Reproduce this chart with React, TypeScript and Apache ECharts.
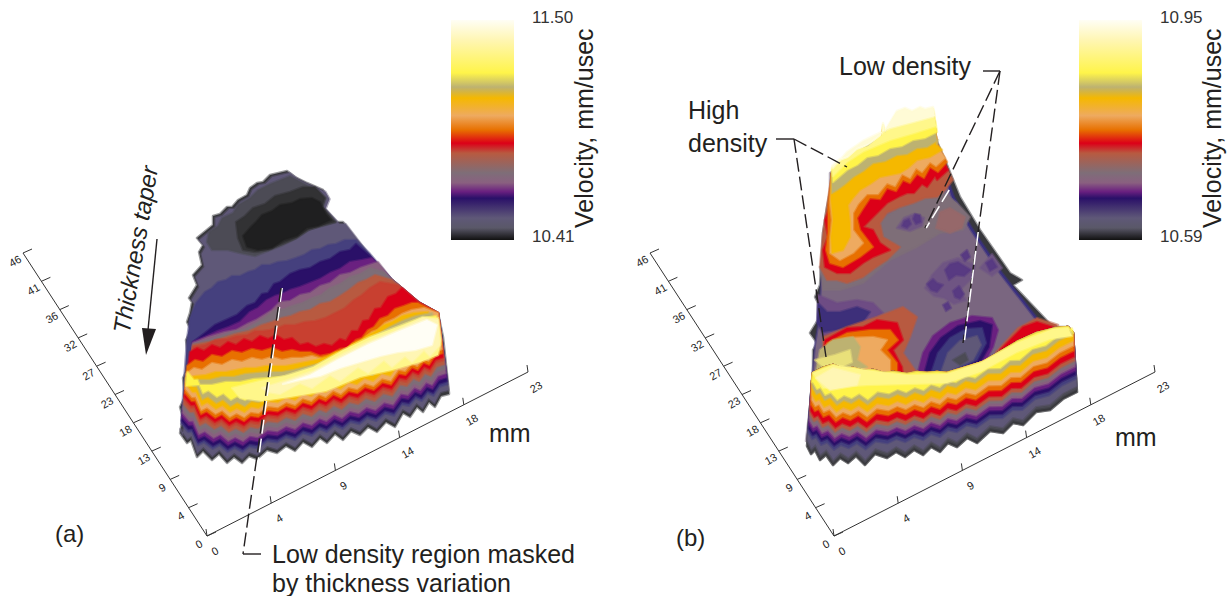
import React, { useEffect, useRef } from "react";
import * as echarts from "echarts";

type P = number[];
const FONT = '"Liberation Sans", Arial, sans-serif';
const INK = "#231f20";

// colour scale (fraction from top of bar, colour)
const scaleFractions = [0, 0.09, 0.24, 0.305, 0.355, 0.435, 0.5, 0.56, 0.605, 0.695, 0.74, 0.78, 0.81, 0.90, 0.945, 1];
const scaleColors = ["#fffef5", "#fff6b4", "#fff44a", "#bdb271", "#f5b800", "#eeaa60", "#e87000", "#dc0018", "#b85a40", "#7e6e78", "#8a6080", "#6a2080", "#2a1068", "#5f5878", "#5a5868", "#111111"];
const C = {
  white: "#fffef5", cream: "#fff6b4", lemon: "#fff78a", yellow: "#fff44a", olive: "#bdb271", gold: "#f5b800", peach: "#eeaa60",
  orange: "#e87000", red: "#dc0018", redbrown: "#c84030", brown: "#b85a40", gray: "#7e6e78", mauve: "#8a6080",
  purple: "#6a2080", indigo: "#2a1068", blue: "#45407e", slate: "#5f5878", dark: "#38383c", black: "#1f1f20", char: "#323234", ash: "#4c4b55",
};

// ---------- panel (a) outlines, in image units
const aEdge: P[] = [[180,433],[183,418],[180,407],[185,397],[183,378],[187,370],[188,357],[186,340],[191,330],[187,322],[190,313],[192,302],[189,298],[197,285],[193,275],[202,265],[199,252],[203,245],[197,238],[213,225],[213,216],[220,214],[227,207],[232,207],[238,200],[247,195],[250,188],[257,183],[263,182],[270,175],[287,171],[295,177],[307,183],[323,190],[327,197],[323,207],[337,222],[343,222],[370,257],[392,280],[418,302],[438,313],[443,337],[449,393]];
const aFront: P[] = [[180,433],[187,443],[191,440],[197,457],[203,451],[212,460],[219,454],[227,463],[234,457],[242,463],[249,456],[257,459],[267,450],[277,453],[286,446],[295,451],[303,442],[312,447],[320,438],[327,443],[335,434],[343,440],[351,431],[360,435],[368,427],[377,432],[386,422],[395,427],[403,413],[410,417],[417,407],[423,412],[429,402],[435,407],[441,396],[449,394]];
const aCorner: P[] = [[370,257],[392,280],[418,302],[438,313]];
const aAsh: P[] = [[209,232],[218,226],[222,218],[233,213],[238,205],[250,198],[258,190],[270,184],[280,180],[290,176],[303,183],[318,191],[326,198],[323,207],[336,222],[322,226],[310,229],[297,238],[283,245],[270,250],[255,256],[240,253],[228,250],[212,250],[207,242]];
const aChar: P[] = [[236,222],[245,216],[253,208],[265,204],[275,196],[290,192],[303,187],[315,187],[325,198],[322,207],[335,222],[320,226],[308,230],[296,238],[282,244],[268,250],[255,252],[243,250],[238,238]];
const aBlack: P[] = [[243,236],[250,228],[256,222],[262,215],[272,211],[280,205],[292,203],[300,199],[312,198],[320,202],[326,214],[331,220],[318,226],[307,228],[297,236],[284,240],[272,248],[258,250],[247,247]];
const aBlue: P[] = [[187,340],[190,318],[196,303],[205,292],[212,288],[218,282],[226,280],[232,276],[240,276],[248,272],[255,270],[262,265],[270,265],[278,262],[287,261],[296,258],[304,255],[312,250],[320,249],[328,245],[336,244],[345,240],[356,240],[370,254]];
const aIndigo: P[] = [[193,342],[205,333],[215,325],[226,320],[237,315],[247,306],[255,303],[262,294],[268,293],[274,284],[280,282],[290,274],[300,270],[310,268],[320,262],[330,259],[340,252],[350,250],[356,244],[370,256]];
const aPurple: P[] = [[193,342],[205,337],[218,331],[229,327],[240,322],[250,312],[258,308],[267,300],[275,296],[282,294],[290,290],[300,287],[310,283],[320,279],[330,273],[340,269],[350,262],[362,260],[372,258]];
const aMauve: P[] = [[193,343],[208,337],[225,332],[236,330],[247,324],[256,320],[264,315],[272,310],[280,302],[290,301],[300,295],[310,293],[320,286],[330,283],[340,275],[350,273],[360,268],[378,262]];
const aGray: P[] = [[193,344],[212,339],[232,332],[245,329],[258,322],[267,316],[275,310],[284,309],[292,306],[302,303],[312,298],[321,295],[330,288],[340,284],[350,277],[360,274],[370,268],[384,272]];
const aBrown: P[] = [[193,345],[214,341],[235,334],[249,331],[262,325],[272,322],[282,318],[291,316],[300,312],[310,310],[320,304],[330,302],[340,296],[349,290],[358,283],[366,280],[375,275],[392,280]];
const aRedbrown: P[] = [[193,347],[205,345],[215,340],[227,339],[237,336],[247,335],[255,331],[263,331],[270,330],[278,328],[285,325],[295,325],[305,322],[315,321],[325,318],[335,313],[345,308],[354,300],[362,295],[370,288],[380,282],[398,285]];
const aRed: P[] = [[190,352],[197,348],[204,351],[212,345],[220,348],[228,342],[236,345],[244,339],[252,342],[260,336],[268,339],[276,335],[284,340],[292,338],[300,345],[308,343],[316,347],[324,344],[332,346],[340,339],[346,341],[352,331],[358,331],[363,321],[369,320],[375,309],[381,308],[388,297],[396,294],[402,288]];
const aOrange: P[] = [[187,366],[195,360],[203,362],[212,355],[222,357],[232,351],[242,353],[252,349],[262,351],[272,348],[282,352],[292,350],[300,352],[310,352],[320,356],[330,354],[340,349],[348,348],[356,340],[362,338],[368,330],[374,327],[380,319],[388,316],[395,309],[404,306],[412,303],[418,303]];
const aPeach: P[] = [[186,374],[194,368],[202,370],[212,363],[222,365],[232,360],[242,362],[252,358],[262,360],[272,357],[282,360],[292,358],[302,358],[312,356],[322,359],[332,357],[342,351],[350,349],[358,342],[364,339],[372,332],[378,330],[385,323],[394,319],[402,314],[412,310],[424,308]];
const aGold: P[] = [[186,378],[196,376],[206,375],[216,372],[226,372],[236,370],[246,368],[256,368],[266,366],[276,366],[286,366],[296,364],[306,362],[316,360],[326,357],[336,352],[344,351],[352,344],[360,341],[368,335],[376,331],[384,325],[392,322],[402,316],[414,313],[428,312]];
const aOlive: P[] = [[186,382],[198,380],[210,380],[222,377],[234,377],[246,374],[258,373],[270,372],[282,372],[294,370],[306,367],[318,364],[330,358],[342,354],[354,347],[366,340],[378,334],[390,327],[402,321],[416,316],[432,313]];
const aYellow: P[] = [[186,386],[198,385],[212,385],[226,382],[240,382],[254,379],[268,378],[282,377],[296,375],[310,371],[322,368],[334,362],[346,357],[358,350],[370,344],[382,337],[394,331],[406,325],[420,319],[436,316]];
const aLemon: P[] = [[232,388],[260,381],[285,376],[313,367],[343,350],[370,337],[397,327],[423,317],[438,318],[441,340],[438,355],[420,362],[392,370],[360,377],[326,391],[290,397],[262,401],[240,398]];
const aCream: P[] = [[262,388],[285,381],[313,371],[343,354],[370,341],[397,330],[423,318],[438,320],[440,345],[430,356],[424,350],[412,362],[405,356],[392,367],[384,360],[368,373],[358,367],[340,381],[330,375],[312,388],[300,383],[280,394],[268,392]];
const aWhite: P[] = [[283,384],[310,375],[337,360],[367,345],[397,332],[427,320],[437,325],[432,345],[415,350],[398,352],[380,356],[360,362],[340,368],[320,376],[300,380]];
const aLevels: [P[], string, number][] = [
  [aBlue, C.blue, 10], [aIndigo, C.indigo, 13], [aPurple, C.purple, 17], [aMauve, C.mauve, 21], [aGray, C.gray, 25],
  [aBrown, C.brown, 30], [aRedbrown, C.redbrown, 34], [aRed, C.red, 37], [aOrange, C.orange, 41], [aPeach, C.peach, 45],
  [aGold, C.gold, 50], [aOlive, C.olive, 56], [aYellow, C.yellow, 62],
];

// ---------- panel (b) outlines
const bEdge: P[] = [[807,446],[813,380],[813,350],[817,343],[810,333],[818,320],[818,303],[815,297],[820,285],[823,233],[827,207],[834,172],[857,153],[882,138],[897,118],[915,112],[931,112],[935,137],[945,160],[960,197],[980,230],[1010,273],[1022,280],[1013,285],[1053,327],[1068,327],[1073,333],[1077,392]];
const bBody: P[] = [[813,380],[816,345],[820,320],[822,285],[827,233],[830,207],[834,172],[931,114],[933,137],[942,160],[955,197],[974,230],[1003,273],[1045,327],[1070,333],[1074,392],[900,440],[810,440]];
const bFront: P[] = [[807,446],[811,454],[815,450],[820,460],[826,455],[833,465],[840,458],[848,463],[856,456],[865,465],[875,454],[887,458],[896,452],[905,457],[914,450],[923,455],[931,447],[940,452],[948,443],[957,447],[967,438],[977,443],[990,431],[1003,433],[1013,423],[1023,425],[1036,412],[1050,410],[1063,399],[1077,392]];
const bRidge: P[] = [[812,382],[813,373],[823,368],[833,365],[843,369],[853,368],[863,371],[873,370],[883,373],[893,372],[907,374],[917,372],[927,373],[937,372],[947,373],[957,370],[967,367],[983,362],[1000,352],[1017,342],[1037,333],[1057,328],[1068,327],[1073,333]];
const bTop: P[] = [[832,165],[840,158],[848,155],[857,147],[868,143],[882,132],[883,122],[885,130],[897,110],[905,107],[912,110],[920,106],[925,108],[933,106],[937,137],[947,160]];
const bBrown: P[] = [[953,180],[945,190],[937,197],[925,198],[913,203],[900,207],[887,213],[880,223],[883,237],[900,247],[887,260],[875,268],[863,277],[847,283],[837,280],[827,280],[820,267],[823,233],[827,207]];
const bRed: P[] = [[948,170],[937,180],[935,176],[927,187],[922,184],[914,193],[907,193],[900,196],[887,203],[878,212],[870,220],[863,227],[873,230],[880,243],[890,250],[873,257],[863,263],[850,273],[837,273],[825,267],[823,250],[828,237],[825,220],[830,207]];
const bOrange: P[] = [[947,162],[938,172],[930,167],[924,178],[917,174],[910,183],[903,180],[896,191],[887,188],[880,199],[870,198],[862,210],[857,218],[860,230],[873,247],[860,257],[843,267],[830,263],[826,250],[828,233],[828,210],[829,197]];
const bPeach: P[] = [[945,158],[936,166],[930,162],[922,172],[916,168],[910,178],[902,174],[895,186],[887,183],[878,194],[867,194],[858,204],[853,213],[853,230],[863,243],[853,253],[840,260],[830,253],[830,240],[832,220],[830,203]];
const bGold: P[] = [[942,150],[930,157],[917,160],[908,168],[900,173],[890,175],[880,177],[870,184],[860,190],[853,198],[848,205],[850,223],[850,237],[843,250],[832,253],[831,237],[833,220],[831,200]];
const bOlive: P[] = [[938,140],[927,147],[917,148],[907,154],[897,155],[885,161],[873,163],[863,171],[853,177],[845,184],[837,190],[832,193]];
const bYellow: P[] = [[937,132],[925,138],[913,140],[902,146],[890,148],[878,155],[867,157],[857,165],[847,170],[833,182]];
const bLemon: P[] = [[936,126],[914,133],[890,140],[864,151],[847,162],[833,176]];
const bCream: P[] = [[935,116],[913,122],[890,128],[863,141],[847,152],[833,168]];
const bGrayZone: P[] = [[880,220],[907,203],[940,190],[957,203],[970,217],[963,230],[940,233],[917,247],[890,260],[863,283],[840,290],[823,290],[820,267]];
const bTan: P[] = [[940,212],[950,208],[965,217],[962,228],[950,233],[936,228]];
const bHaze: P[] = [[818,295],[837,303],[857,300],[873,303],[883,313],[860,327],[823,337],[818,320]];
const bBand: P[] = [[818,303],[827,312],[840,312],[857,307],[870,312],[862,323],[847,328],[823,332],[817,323]];
const bHalos: P[][] = [
  [[897,228],[904,218],[914,214],[924,218],[922,226],[910,231]],
  [[925,288],[932,275],[943,263],[958,258],[975,265],[972,278],[960,290],[966,300],[954,304],[944,298],[934,296]],
  [[980,268],[992,254],[1002,268],[992,276]],
];
const bBlots: P[][] = [
  [[902,226],[904,221],[909,219],[911,224],[907,228]], [[913,219],[915,214],[920,215],[921,222],[916,224]],
  [[945,270],[950,264],[958,262],[966,267],[971,270],[964,276],[956,275],[949,280]], [[927,284],[933,279],[937,283],[943,285],[937,292],[931,290]],
  [[953,291],[959,286],[964,294],[960,299],[955,297]], [[943,305],[948,302],[951,308],[946,311]], [[986,263],[992,259],[997,267],[990,271]],
  [[961,255],[967,250],[970,257],[965,261]],
];
const bPatches: [P[], string][] = [
  [[[823,337],[847,327],[877,317],[903,307],[917,317],[910,337],[903,353],[917,373],[873,377],[823,377]], C.brown],
  [[[825,340],[847,328],[863,327],[877,320],[897,323],[903,340],[893,350],[902,367],[903,377],[873,377],[823,377]], C.red],
  [[[827,343],[847,333],[870,330],[890,330],[898,340],[887,350],[897,363],[897,377],[823,377]], C.orange],
  [[[830,343],[847,338],[873,337],[887,340],[880,350],[890,360],[890,377],[823,377]], C.peach],
  [[[820,350],[833,340],[853,337],[860,347],[857,360],[867,367],[830,377],[815,377]], C.olive],
  [[[815,360],[835,355],[850,350],[852,362],[830,372]], "#e9e07a"],
  [[[918,372],[923,353],[933,336],[950,323],[972,316],[992,318],[998,330],[993,347],[985,362],[947,379]], C.purple],
  [[[925,371],[930,353],[941,338],[958,326],[980,321],[992,325],[989,347],[981,361],[947,376]], C.indigo],
  [[[932,371],[938,353],[950,338],[966,329],[982,328],[986,343],[977,360],[947,375]], "#3e3a7c"],
  [[[942,370],[948,353],[960,341],[977,336],[981,345],[973,360],[947,372]], C.slate],
  [[[953,360],[965,353],[968,360],[960,365]], C.ash],
  [[[996,352],[1018,328],[1037,318],[1058,325],[1025,345]], C.brown],
  [[[1000,350],[1023,327],[1037,322],[1053,327],[1023,342]], C.red],
];
const bWallLevels: [string, number][] = [
  [C.dark, 0], [C.ash, 3], [C.slate, 6], [C.blue, 14], [C.indigo, 18], [C.purple, 22], [C.mauve, 26], [C.gray, 29],
  [C.brown, 32], [C.red, 36], [C.orange, 42], [C.peach, 47], [C.gold, 52], [C.olive, 59], [C.yellow, 64],
];
const bWallLemon: P[] = [[813,373],[833,365],[873,371],[907,375],[947,374],[980,363],[1017,343],[1053,329],[1068,328],[1072,336],[1050,339],[1017,352],[980,372],[947,383],[907,384],[867,385],[823,388]];
const bWallWhite: P[] = [[816,378],[833,368],[860,375],[857,385],[830,390]];

// ---------- axes, scale bars and labels
const xTicks = ["0", "4", "9", "14", "18", "23"];
const yTicks = ["0", "4", "9", "13", "18", "23", "27", "32", "36", "41", "46"];
const panelShift = [0, 627];
const barShift = [0, 628];
const scaleA = ["11.50", "10.41"];
const scaleB = ["10.95", "10.59"];

const rev = (a: P[]) => [...a].reverse();
// wall contours follow the front edge with its saw-teeth softened once they leave the bottom edge
const wall = (front: P[], d: number, l0: number, l1: number) =>
  front.map((p, i) => {
    const t = i / (front.length - 1);
    const prev = front[Math.max(i - 1, 0)][1];
    const next = front[Math.min(i + 1, front.length - 1)][1];
    const y = d >= 10 ? (prev + 10 * p[1] + next) / 12 : p[1];
    return [p[0] + d * (l0 + (l1 - l0) * t), y - d];
  });
const aWall = (d: number) => wall(aFront, d, 0.12, -0.16);
const bWall = (d: number) => wall(bFront, d, 0.1, -0.08);
const moved = (a: P[], dx: number, dy: number) => a.map((p) => [p[0] + dx, p[1] + dy]);
const level = (back: P[], d: number) => {
  const last = back[back.length - 1];
  return [...back, ...aCorner.filter((p) => p[0] > last[0] + 2 && p[1] > last[1] + 2), ...rev(aWall(d))];
};
const upperTop = (contour: P[], inset: number) => [
  ...contour,
  ...moved(bTop, 0, inset).filter((p) => p[0] < contour[0][0]),
];

const layers: [P[], string][] = [
  [[...aEdge, ...rev(aFront)], C.dark],
  [[...moved(aEdge.slice(0, 39), 2.5, 2), ...aCorner.slice(1), ...rev(aWall(4))], C.slate],
  [aAsh, C.ash], [aChar, C.char], [aBlack, C.black],
  ...aLevels.map(([b, c, d]) => [level(b, d), c] as [P[], string]),
  [aLemon, C.lemon], [aCream, C.cream], [aWhite, C.white],
  [[...bEdge, ...rev(bFront)], C.dark],
  [moved(bBody, -1, 0), "#3a3080"],
  [moved(bBody, -4, 1).map((p, i) => (i < 6 ? [p[0] + 4, p[1]] : p)), "#7a6680"],
  [bGrayZone, C.gray], [bTan, "#96686a"], [bHaze, "#6e4c84"], [bBand, "#3d2f7a"],
  ...bHalos.map((b) => [b, "#6f5583"] as [P[], string]),
  ...bBlots.map((b) => [b, "#583a82"] as [P[], string]),
  [upperTop(bBrown, 8), C.brown], [upperTop(bRed, 8), C.red], [upperTop(bOrange, 8), C.orange], [upperTop(bPeach, 8), C.peach],
  [upperTop(bGold, 8), C.gold], [upperTop(bOlive, 7), C.olive], [upperTop(bYellow, 5), C.yellow],
  [upperTop(bLemon, 3), C.lemon], [upperTop(bCream, 1), "#fffbd6"],
  ...bPatches,
  ...bWallLevels.map(([c, d]) => [[...bRidge, ...rev(bWall(d))], c] as [P[], string]),
  [bWallLemon, C.lemon], [bWallWhite, C.cream],
];

// leader lines [from, to, dashed, withWhiteCompanion]
const leaders: [P, P, boolean, boolean][] = [
  [[281, 288], [256, 468], false, true],
  [[281, 288], [243, 554], true, false],
  [[243, 554], [261, 554], false, false],
  [[776, 139], [794, 139], false, false],
  [[794, 139], [847, 167], true, false],
  [[794, 139], [826, 357], true, false],
  [[983, 71], [1000, 71], false, false],
  [[1000, 71], [925, 228], true, false],
  [[1000, 71], [963, 343], true, false],
  [[948, 190], [925, 228], false, true],
  [[977, 232], [963, 343], false, true],
  [[157, 239], [148, 330], false, false],
];
const arrowHead: P[] = [[142, 328], [156, 329], [146, 355]];

const barFrom = [451, 20];
const barTo = [514, 240];

export default function App() {
  const ref = useRef<HTMLDivElement>(null);
  useEffect(() => {
    document.body.style.margin = "0";
    const chart = echarts.init(ref.current!, undefined, { renderer: "svg" });
    const stops = scaleFractions.map((offset, i) => ({ offset, color: scaleColors[i] }));
    const txt = (text: string, x: number, y: number, size: number, extra: any = {}, styleExtra: any = {}) => ({
      type: "text", x, y, silent: true, ...extra,
      style: { text, fontFamily: FONT, fontSize: size, fill: INK, textAlign: "left", textVerticalAlign: "middle", ...styleExtra },
    });
    const labels = [
      txt("(a)", 55, 533, 24), txt("(b)", 676, 537, 24),
      txt("mm", 489, 433, 25), txt("mm", 1115, 437, 25),
      txt("High", 688, 110, 25), txt("density", 688, 143, 25),
      txt("Low density", 839, 66, 25),
      txt("Low density region masked", 272, 554, 25), txt("by thickness variation", 272, 583, 25),
      txt("Thickness taper", 121, 333, 24, { rotation: 1.4 }, { fontStyle: "italic" }),
      txt("Velocity, mm/usec", 584, 228, 25, { rotation: Math.PI / 2 }),
      txt("Velocity, mm/usec", 1212, 228, 25, { rotation: Math.PI / 2 }),
      txt(scaleA[0], 532, 17, 17, {}, { fill: "#333" }), txt(scaleA[1], 532, 236, 17, {}, { fill: "#333" }),
      txt(scaleB[0], 1160, 17, 17, {}, { fill: "#333" }), txt(scaleB[1], 1160, 236, 17, {}, { fill: "#333" }),
    ];
    const tickItems: any[] = [];
    panelShift.forEach((dx) => {
      xTicks.forEach((t, i) => tickItems.push({ value: [207 + dx + (321 * i) / 5, 536 - (164 * i) / 5, 0, t] }));
      yTicks.forEach((t, i) => tickItems.push({ value: [207 + dx - (184 * i) / 10, 536 - (283 * i) / 10, 1, t] }));
    });
    chart.setOption({
      animation: false,
      grid: { left: 0, top: 0, width: 1228, height: 596 },
      xAxis: { type: "value", min: 0, max: 1228, show: false },
      yAxis: { type: "value", min: 0, max: 596, inverse: true, show: false },
      graphic: labels,
      series: [
        {
          type: "custom", clip: false, silent: true, coordinateSystem: "cartesian2d",
          data: layers.map((_, i) => [i, i]),
          renderItem: (_: any, api: any) => {
            const [pts, color] = layers[api.value(0)];
            return {
              type: "polygon",
              shape: { points: pts.map((p) => api.coord(p)) },
              style: { fill: color, stroke: echarts.color.modifyAlpha(color, 0.5), lineWidth: 2.5, lineJoin: "round" },
            };
          },
        },
        {
          type: "custom", clip: false, silent: true,
          data: barShift.map((d) => [d, 0]),
          renderItem: (_: any, api: any) => {
            const d = api.value(0);
            const a = api.coord([barFrom[0] + d, barFrom[1]]);
            const b = api.coord([barTo[0] + d, barTo[1]]);
            return {
              type: "rect",
              shape: { x: a[0], y: a[1], width: b[0] - a[0], height: b[1] - a[1] },
              style: { fill: new echarts.graphic.LinearGradient(0, 0, 0, 1, stops) },
            };
          },
        },
        {
          type: "custom", clip: false, silent: true,
          data: panelShift.map((d) => [d, 0]),
          renderItem: (_: any, api: any) => {
            const d = api.value(0);
            const o = api.coord([207 + d, 536]);
            const ex = api.coord([528 + d, 372]);
            const ey = api.coord([23 + d, 253]);
            return {
              type: "polyline",
              shape: { points: [ex, o, ey] },
              style: { stroke: "#333", lineWidth: 1, fill: "none" },
            };
          },
        },
        {
          type: "custom", clip: false, silent: true,
          data: tickItems,
          dimensions: ["x", "y", "kind", { name: "label", type: "ordinal" }],
          renderItem: (params: any, api: any) => {
            const item = tickItems[params.dataIndex].value;
            const c = api.coord([item[0], item[1]]);
            const isY = item[2] === 1;
            const tip = isY ? [c[0] + 9, c[1] - 4] : [c[0] - 1, c[1] - 7];
            const lx = isY ? c[0] - 8 : c[0] + 8;
            const ly = isY ? c[1] + 8 : c[1] + 15;
            return {
              type: "group",
              children: [
                { type: "line", shape: { x1: c[0], y1: c[1], x2: tip[0], y2: tip[1] }, style: { stroke: "#333", lineWidth: 1 } },
                {
                  type: "text", x: lx, y: ly, rotation: 0.52,
                  style: { text: item[3], fontFamily: FONT, fontSize: 11, fill: "#222", textAlign: "center", textVerticalAlign: "middle" },
                },
              ],
            };
          },
        },
        {
          type: "custom", clip: false, silent: true,
          data: leaders.map((_, i) => [i, i]),
          renderItem: (_: any, api: any) => {
            const [a, b, dashed, white] = leaders[api.value(0)];
            const pa = api.coord(a);
            const pb = api.coord(b);
            return {
              type: "line",
              shape: white
                ? { x1: pa[0] + 1.2, y1: pa[1], x2: pb[0] + 1.2, y2: pb[1] }
                : { x1: pa[0], y1: pa[1], x2: pb[0], y2: pb[1] },
              style: white
                ? { stroke: "#fff", lineWidth: 1.5, lineDash: [14, 5] }
                : { stroke: INK, lineWidth: 1.4, lineDash: dashed ? [14, 5] : undefined },
            };
          },
        },
        {
          type: "custom", clip: false, silent: true,
          data: [[0, 0]],
          renderItem: (_: any, api: any) => ({
            type: "polygon",
            shape: { points: arrowHead.map((p) => api.coord(p)) },
            style: { fill: INK },
          }),
        },
      ],
    });
    return () => chart.dispose();
  }, []);
  return <div ref={ref} style={{ width: 1228, height: 596 }} />;
}
